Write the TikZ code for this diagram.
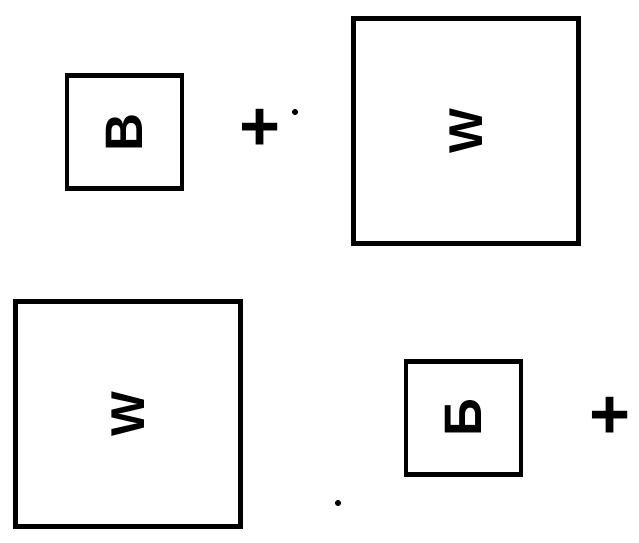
\documentclass[tikz,border=0pt]{standalone}
\usepackage{fontspec}
\newfontfamily\boxfont{Liberation Sans}
\tikzset{
  smallbox/.style={draw, line width=2.8pt, minimum width=2.25cm, minimum height=2.3cm,
    inner sep=0pt, font=\boxfont\bfseries\fontsize{30}{30}\selectfont},
  bigbox/.style={draw, line width=2.8pt, minimum width=4.5cm, minimum height=4.5cm,
    inner sep=0pt, font=\boxfont\bfseries\fontsize{27}{27}\selectfont},
  plussign/.style={inner sep=0pt, font=\boxfont\bfseries\fontsize{40}{40}\selectfont},
  dotmark/.style={circle, fill, inner sep=0pt, minimum size=3.5pt}
}
\begin{document}
\begin{tikzpicture}[x=0.02cm, y=-0.02cm]
    \useasboundingbox (0,0) rectangle (639,542);
    % Upper row
    \node[smallbox, rotate=90] (B1) at (124.5,132) {B};
    \node[plussign] (P1) at (260,130) {+};
    \node[dotmark] (D1) at (295,112) {};
    \node[bigbox, rotate=90] (W1) at (466,131) {W};

    % Lower row
    \node[bigbox, rotate=90] (W2) at (128,414) {W};
    \node[smallbox, rotate=90] (B2) at (463.5,418) {Б};
    \node[plussign] (P2) at (610,418) {+};
    \node[dotmark] (D2) at (338,503) {};
\end{tikzpicture}
\end{document}
